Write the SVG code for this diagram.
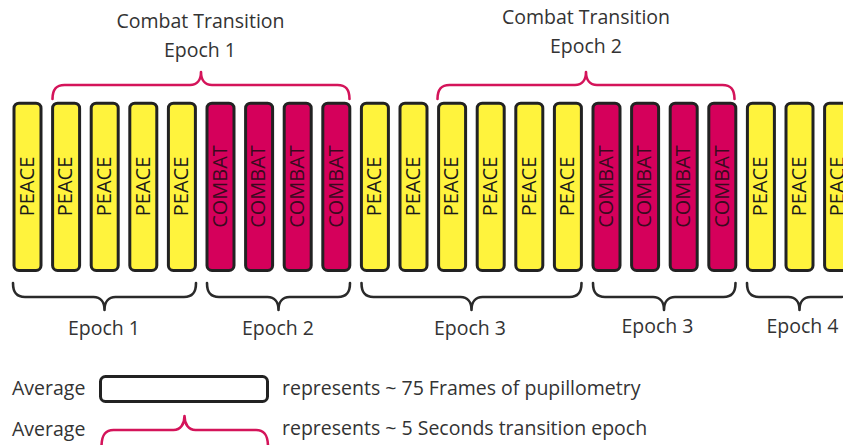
<svg xmlns="http://www.w3.org/2000/svg" width="843" height="445" viewBox="0 0 843 445">
  <defs>
    <style>
      text { font-family: "Open Sans", "Noto Sans", "Liberation Sans", sans-serif; font-size: 19.5px; fill: #333; }
      .bar { stroke: #222; stroke-width: 3; }
      .peace { fill: #FFF33D; }
      .combat { fill: #D5005B; }
      .vlabel { text-anchor: middle; fill: #1a1a1a; font-size: 20px; }
      .vlabel.c { fill: #3a0a1e; }
      .mid { text-anchor: middle; }
      .brace-top { fill: none; stroke: #D4145A; stroke-width: 2.6; stroke-linecap: round; stroke-linejoin: round; }
      .brace-bot { fill: none; stroke: #2a2a2a; stroke-width: 2.6; stroke-linecap: round; stroke-linejoin: round; }
    </style>
  </defs>
  <rect width="843" height="445" fill="#ffffff"/>

  <!-- frame bars: pitch 38.6 px -->
  <g id="bar-0"><rect class="bar peace" x="14" y="103.2" width="27" height="167.3" rx="5"/><text class="vlabel" transform="translate(33.8,186.5) rotate(-90)">PEACE</text></g>
  <g id="bar-1"><rect class="bar peace" x="52.6" y="103.2" width="27" height="167.3" rx="5"/><text class="vlabel" transform="translate(72.4,186.5) rotate(-90)">PEACE</text></g>
  <g id="bar-2"><rect class="bar peace" x="91.2" y="103.2" width="27" height="167.3" rx="5"/><text class="vlabel" transform="translate(111,186.5) rotate(-90)">PEACE</text></g>
  <g id="bar-3"><rect class="bar peace" x="129.8" y="103.2" width="27" height="167.3" rx="5"/><text class="vlabel" transform="translate(149.6,186.5) rotate(-90)">PEACE</text></g>
  <g id="bar-4"><rect class="bar peace" x="168.4" y="103.2" width="27" height="167.3" rx="5"/><text class="vlabel" transform="translate(188.2,186.5) rotate(-90)">PEACE</text></g>
  <g id="bar-5"><rect class="bar combat" x="207" y="103.2" width="27" height="167.3" rx="5"/><text class="vlabel c" transform="translate(226.8,186.5) rotate(-90)">COMBAT</text></g>
  <g id="bar-6"><rect class="bar combat" x="245.6" y="103.2" width="27" height="167.3" rx="5"/><text class="vlabel c" transform="translate(265.4,186.5) rotate(-90)">COMBAT</text></g>
  <g id="bar-7"><rect class="bar combat" x="284.2" y="103.2" width="27" height="167.3" rx="5"/><text class="vlabel c" transform="translate(304,186.5) rotate(-90)">COMBAT</text></g>
  <g id="bar-8"><rect class="bar combat" x="322.8" y="103.2" width="27" height="167.3" rx="5"/><text class="vlabel c" transform="translate(342.6,186.5) rotate(-90)">COMBAT</text></g>
  <g id="bar-9"><rect class="bar peace" x="361.4" y="103.2" width="27" height="167.3" rx="5"/><text class="vlabel" transform="translate(381.2,186.5) rotate(-90)">PEACE</text></g>
  <g id="bar-10"><rect class="bar peace" x="400" y="103.2" width="27" height="167.3" rx="5"/><text class="vlabel" transform="translate(419.8,186.5) rotate(-90)">PEACE</text></g>
  <g id="bar-11"><rect class="bar peace" x="438.6" y="103.2" width="27" height="167.3" rx="5"/><text class="vlabel" transform="translate(458.4,186.5) rotate(-90)">PEACE</text></g>
  <g id="bar-12"><rect class="bar peace" x="477.2" y="103.2" width="27" height="167.3" rx="5"/><text class="vlabel" transform="translate(497,186.5) rotate(-90)">PEACE</text></g>
  <g id="bar-13"><rect class="bar peace" x="515.8" y="103.2" width="27" height="167.3" rx="5"/><text class="vlabel" transform="translate(535.6,186.5) rotate(-90)">PEACE</text></g>
  <g id="bar-14"><rect class="bar peace" x="554.4" y="103.2" width="27" height="167.3" rx="5"/><text class="vlabel" transform="translate(574.2,186.5) rotate(-90)">PEACE</text></g>
  <g id="bar-15"><rect class="bar combat" x="593" y="103.2" width="27" height="167.3" rx="5"/><text class="vlabel c" transform="translate(612.8,186.5) rotate(-90)">COMBAT</text></g>
  <g id="bar-16"><rect class="bar combat" x="631.6" y="103.2" width="27" height="167.3" rx="5"/><text class="vlabel c" transform="translate(651.4,186.5) rotate(-90)">COMBAT</text></g>
  <g id="bar-17"><rect class="bar combat" x="670.2" y="103.2" width="27" height="167.3" rx="5"/><text class="vlabel c" transform="translate(690,186.5) rotate(-90)">COMBAT</text></g>
  <g id="bar-18"><rect class="bar combat" x="708.8" y="103.2" width="27" height="167.3" rx="5"/><text class="vlabel c" transform="translate(728.6,186.5) rotate(-90)">COMBAT</text></g>
  <g id="bar-19"><rect class="bar peace" x="747.4" y="103.2" width="27" height="167.3" rx="5"/><text class="vlabel" transform="translate(767.2,186.5) rotate(-90)">PEACE</text></g>
  <g id="bar-20"><rect class="bar peace" x="786" y="103.2" width="27" height="167.3" rx="5"/><text class="vlabel" transform="translate(805.8,186.5) rotate(-90)">PEACE</text></g>
  <g id="bar-21"><rect class="bar peace" x="824.6" y="103.2" width="27" height="167.3" rx="5"/><text class="vlabel" transform="translate(844.4,186.5) rotate(-90)">PEACE</text></g>

  <!-- braces -->
  <g id="connectors">
    <path class="brace-top" d="M52.5,99 C52.5,90 55.5,85 64.5,85 L190,85 C197,85 201,80 201,72 C201,80 205,85 212,85 L337.5,85 C346.5,85 349.5,90 349.5,99"/>
    <path class="brace-top" d="M437.5,99 C437.5,90 440.5,85 449.5,85 L575,85 C582,85 586,80 586,72 C586,80 590,85 597,85 L722.5,85 C731.5,85 734.5,90 734.5,99"/>
    <path class="brace-bot" d="M13,283 C13,292 16,297 25,297 L93.5,297 C100.5,297 104.5,302 104.5,310 C104.5,302 108.5,297 115.5,297 L184,297 C193,297 196,292 196,283"/>
    <path class="brace-bot" d="M207,283 C207,292 210,297 219,297 L267.5,297 C274.5,297 278.5,302 278.5,310 C278.5,302 282.5,297 289.5,297 L338,297 C347,297 350,292 350,283"/>
    <path class="brace-bot" d="M361.5,283 C361.5,292 364.5,297 373.5,297 L460.5,297 C467.5,297 471.5,302 471.5,310 C471.5,302 475.5,297 482.5,297 L569.5,297 C578.5,297 581.5,292 581.5,283"/>
    <path class="brace-bot" d="M593,283 C593,292 596,297 605,297 L653,297 C660,297 664,302 664,310 C664,302 668,297 675,297 L723.5,297 C732.5,297 735.5,292 735.5,283"/>
    <path class="brace-bot" d="M747,283 C747,292 750,297 759,297 L788.5,297 C795.5,297 799.5,302 799.5,310 C799.5,302 803.5,297 810.5,297 L840,297 C849,297 852,292 852,283"/>
  </g>

  <!-- group labels -->
  <g id="label-transition-1">
    <text class="mid" x="200.5" y="28">Combat Transition</text>
    <text class="mid" x="200" y="57">Epoch 1</text>
  </g>
  <g id="label-transition-2">
    <text class="mid" x="586" y="24">Combat Transition</text>
    <text class="mid" x="586" y="53">Epoch 2</text>
  </g>
  <g id="label-epochs">
    <text class="mid" x="104" y="335">Epoch 1</text>
    <text class="mid" x="278" y="335">Epoch 2</text>
    <text class="mid" x="470" y="335">Epoch 3</text>
    <text class="mid" x="657.5" y="333">Epoch 3</text>
    <text class="mid" x="802.5" y="333">Epoch 4</text>
  </g>

  <!-- legend -->
  <g id="legend-frame">
    <text x="12" y="395">Average</text>
    <rect x="100.5" y="376.5" width="167" height="25" rx="5" fill="#ffffff" stroke="#222" stroke-width="3"/>
    <text x="282" y="395">represents ~ 75 Frames of pupillometry</text>
  </g>
  <g id="legend-transition">
    <text x="12" y="436">Average</text>
    <path class="brace-top" d="M101.5,447 C101.5,436 104.5,430 113.5,430 L173.5,430 C180.5,430 184.5,424 184.5,416 C184.5,424 188.5,430 195.5,430 L256,430 C265,430 268,436 268,447"/>
    <text x="282" y="435">represents ~ 5 Seconds transition epoch</text>
  </g>
</svg>
